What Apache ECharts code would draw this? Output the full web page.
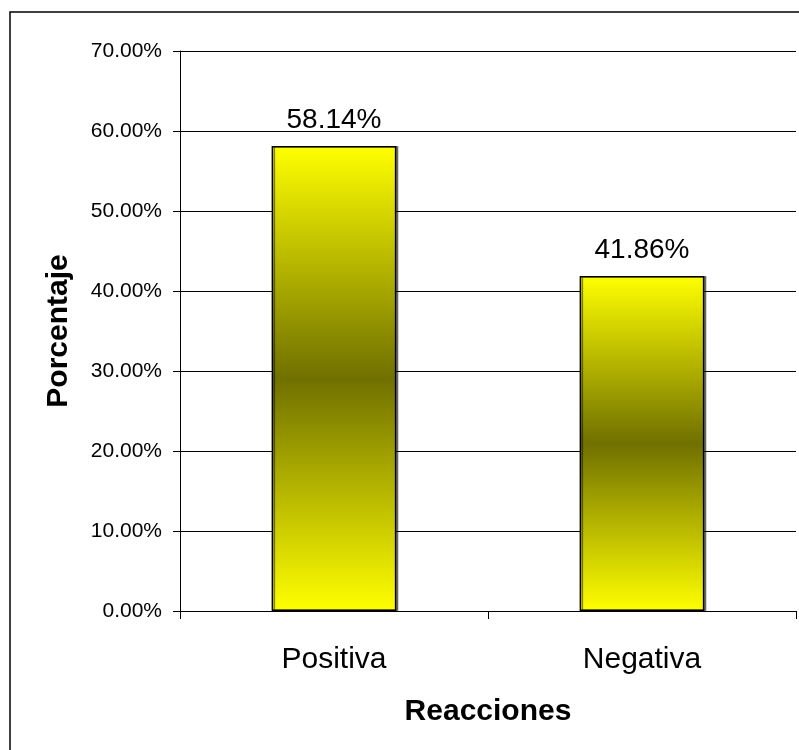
<!DOCTYPE html>
<html>
<head>
<meta charset="utf-8">
<script src="https://cdn.jsdelivr.net/npm/echarts@6/dist/echarts.min.js"></script>
<style>
  html, body { margin: 0; padding: 0; background: #fff; }
  #chart { width: 799px; height: 750px; }
</style>
</head>
<body>
<div id="chart"></div>
<script>
// Reaction categories and their share (percent)
const categories = ['Positiva', 'Negativa'];
const percentages = [58.14, 41.86];

// Y axis range and step (percent)
const yMin = 0;
const yMax = 70;
const yStep = 10;

const FONT = 'Arial, "Liberation Sans", sans-serif';

const chart = echarts.init(document.getElementById('chart'), null, { renderer: 'canvas' });

// Yellow–olive–yellow band across each bar's height
const barFill = new echarts.graphic.LinearGradient(0, 0, 0, 1, [
  { offset: 0, color: '#FFFF00' },
  { offset: 0.5, color: '#707000' },
  { offset: 1, color: '#FFFF00' }
]);

chart.setOption({
  animation: false,
  backgroundColor: '#ffffff',
  textStyle: { fontFamily: FONT },
  graphic: [{
    type: 'rect',
    shape: { x: 10, y: 12, width: 820, height: 800 },
    style: { fill: 'none', stroke: '#000', lineWidth: 1.5 },
    silent: true,
    z: -1
  }],
  grid: { left: 180, right: 3, top: 51, bottom: 139, containLabel: false },
  xAxis: {
    type: 'category',
    data: categories,
    name: 'Reacciones',
    nameLocation: 'middle',
    nameGap: 86,
    nameTextStyle: { fontFamily: FONT, fontSize: 30, fontWeight: 'bold', color: '#000' },
    axisLine: { lineStyle: { color: '#000', width: 1 } },
    axisTick: { show: true, length: 8, lineStyle: { color: '#000' } },
    axisLabel: { fontFamily: FONT, fontSize: 30, color: '#000', margin: 34 }
  },
  yAxis: {
    type: 'value',
    min: yMin,
    max: yMax,
    interval: yStep,
    name: 'Porcentaje',
    nameLocation: 'middle',
    nameGap: 106,
    nameTextStyle: { fontFamily: FONT, fontSize: 30, fontWeight: 'bold', color: '#000' },
    axisLine: { show: true, lineStyle: { color: '#000', width: 1 } },
    axisTick: { show: true, length: 7, lineStyle: { color: '#000' } },
    axisLabel: {
      fontFamily: FONT, fontSize: 21, color: '#000', margin: 18,
      formatter: v => v.toFixed(2) + '%'
    },
    splitLine: { show: true, lineStyle: { color: '#000', width: 1 } }
  },
  series: [{
    type: 'bar',
    data: percentages,
    barWidth: '40.5%',
    itemStyle: {
      color: barFill,
      borderColor: '#000',
      borderWidth: 1.5,
      shadowColor: 'rgba(0,0,0,0.45)',
      shadowOffsetX: 2,
      shadowOffsetY: 0,
      shadowBlur: 0
    },
    label: {
      show: true,
      position: 'top',
      distance: 12,
      fontFamily: FONT,
      fontSize: 28,
      color: '#000',
      formatter: p => p.value.toFixed(2) + '%'
    }
  }]
});
</script>
</body>
</html>
